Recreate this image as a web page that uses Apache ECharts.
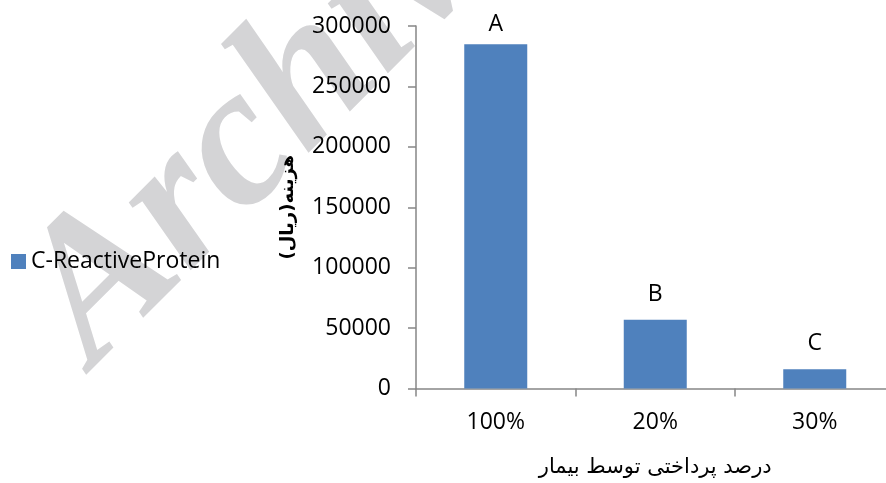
<!DOCTYPE html>
<html>
<head>
<meta charset="utf-8">
<script src="https://cdn.jsdelivr.net/npm/echarts@6/dist/echarts.min.js"></script>
<style>
  html, body { margin: 0; padding: 0; background: #ffffff; }
  #chart { width: 886px; height: 483px; }
</style>
</head>
<body>
<div id="chart"></div>
<script>
// Cost of the C-Reactive Protein test by share paid by the patient
const categories = ['100%', '20%', '30%'];
const costValues = [285000, 57000, 16000];
const groupLetters = ['A', 'B', 'C'];
const seriesName = 'C-ReactiveProtein';
const yTicks = { min: 0, max: 300000, interval: 50000 };
const yAxisTitle = 'هزینه(ریال)';
const xAxisTitle = 'درصد پرداختی توسط بیمار';
const watermarkText = 'Archive of SID';

const baseFont = '"Open Sans", "DejaVu Sans", sans-serif';

const chart = echarts.init(document.getElementById('chart'), null, { renderer: 'canvas' });

const barData = costValues.map((v, i) => ({
  value: v,
  label: { formatter: groupLetters[i], distance: i === 0 ? 8 : 14 }
}));

chart.setOption({
  animation: false,
  backgroundColor: '#ffffff',
  textStyle: { fontFamily: baseFont },
  graphic: [{
    type: 'text',
    z: -10,
    silent: true,
    x: 57,
    y: 331,
    rotation: 45 * Math.PI / 180,
    style: {
      text: watermarkText,
      font: 'italic bold 200px "Liberation Serif", "DejaVu Serif", serif',
      fill: '#d4d4d6',
      textVerticalAlign: 'middle'
    }
  }],
  legend: {
    orient: 'vertical',
    left: 11,
    top: 250,
    padding: 0,
    itemWidth: 15,
    itemHeight: 15,
    icon: 'rect',
    textStyle: { fontSize: 23, color: '#000000', fontFamily: baseFont },
    data: [seriesName]
  },
  grid: {
    left: 416,
    top: 26,
    width: 478.5,
    height: 362.5,
    containLabel: false,
    outerBoundsMode: 'none'
  },
  xAxis: {
    type: 'category',
    data: categories,
    name: xAxisTitle,
    nameLocation: 'middle',
    nameGap: 69,
    nameTextStyle: { fontSize: 21, color: '#000000', fontFamily: '"DejaVu Sans", sans-serif' },
    axisLine: { lineStyle: { color: '#868686', width: 1.5 } },
    axisTick: { show: true, alignWithLabel: false, length: 8, lineStyle: { color: '#868686', width: 1.5 } },
    axisLabel: { fontSize: 23, color: '#000000', margin: 22 },
    splitLine: { show: false }
  },
  yAxis: {
    type: 'value',
    min: yTicks.min,
    max: yTicks.max,
    interval: yTicks.interval,
    name: yAxisTitle,
    nameLocation: 'middle',
    nameGap: 119,
    nameTextStyle: { fontSize: 18, fontWeight: 'bold', color: '#000000', fontFamily: '"DejaVu Sans", sans-serif' },
    axisLine: { show: true, lineStyle: { color: '#868686', width: 1.5 } },
    axisTick: { show: true, length: 8, lineStyle: { color: '#868686', width: 1.5 } },
    axisLabel: { fontSize: 23, color: '#000000', margin: 25, formatter: (v) => String(v) },
    splitLine: { show: false }
  },
  series: [{
    name: seriesName,
    type: 'bar',
    data: barData,
    barWidth: 63,
    itemStyle: { color: '#4F81BD' },
    label: {
      show: true,
      position: 'top',
      fontSize: 23,
      color: '#000000'
    }
  }]
});
</script>
</body>
</html>
